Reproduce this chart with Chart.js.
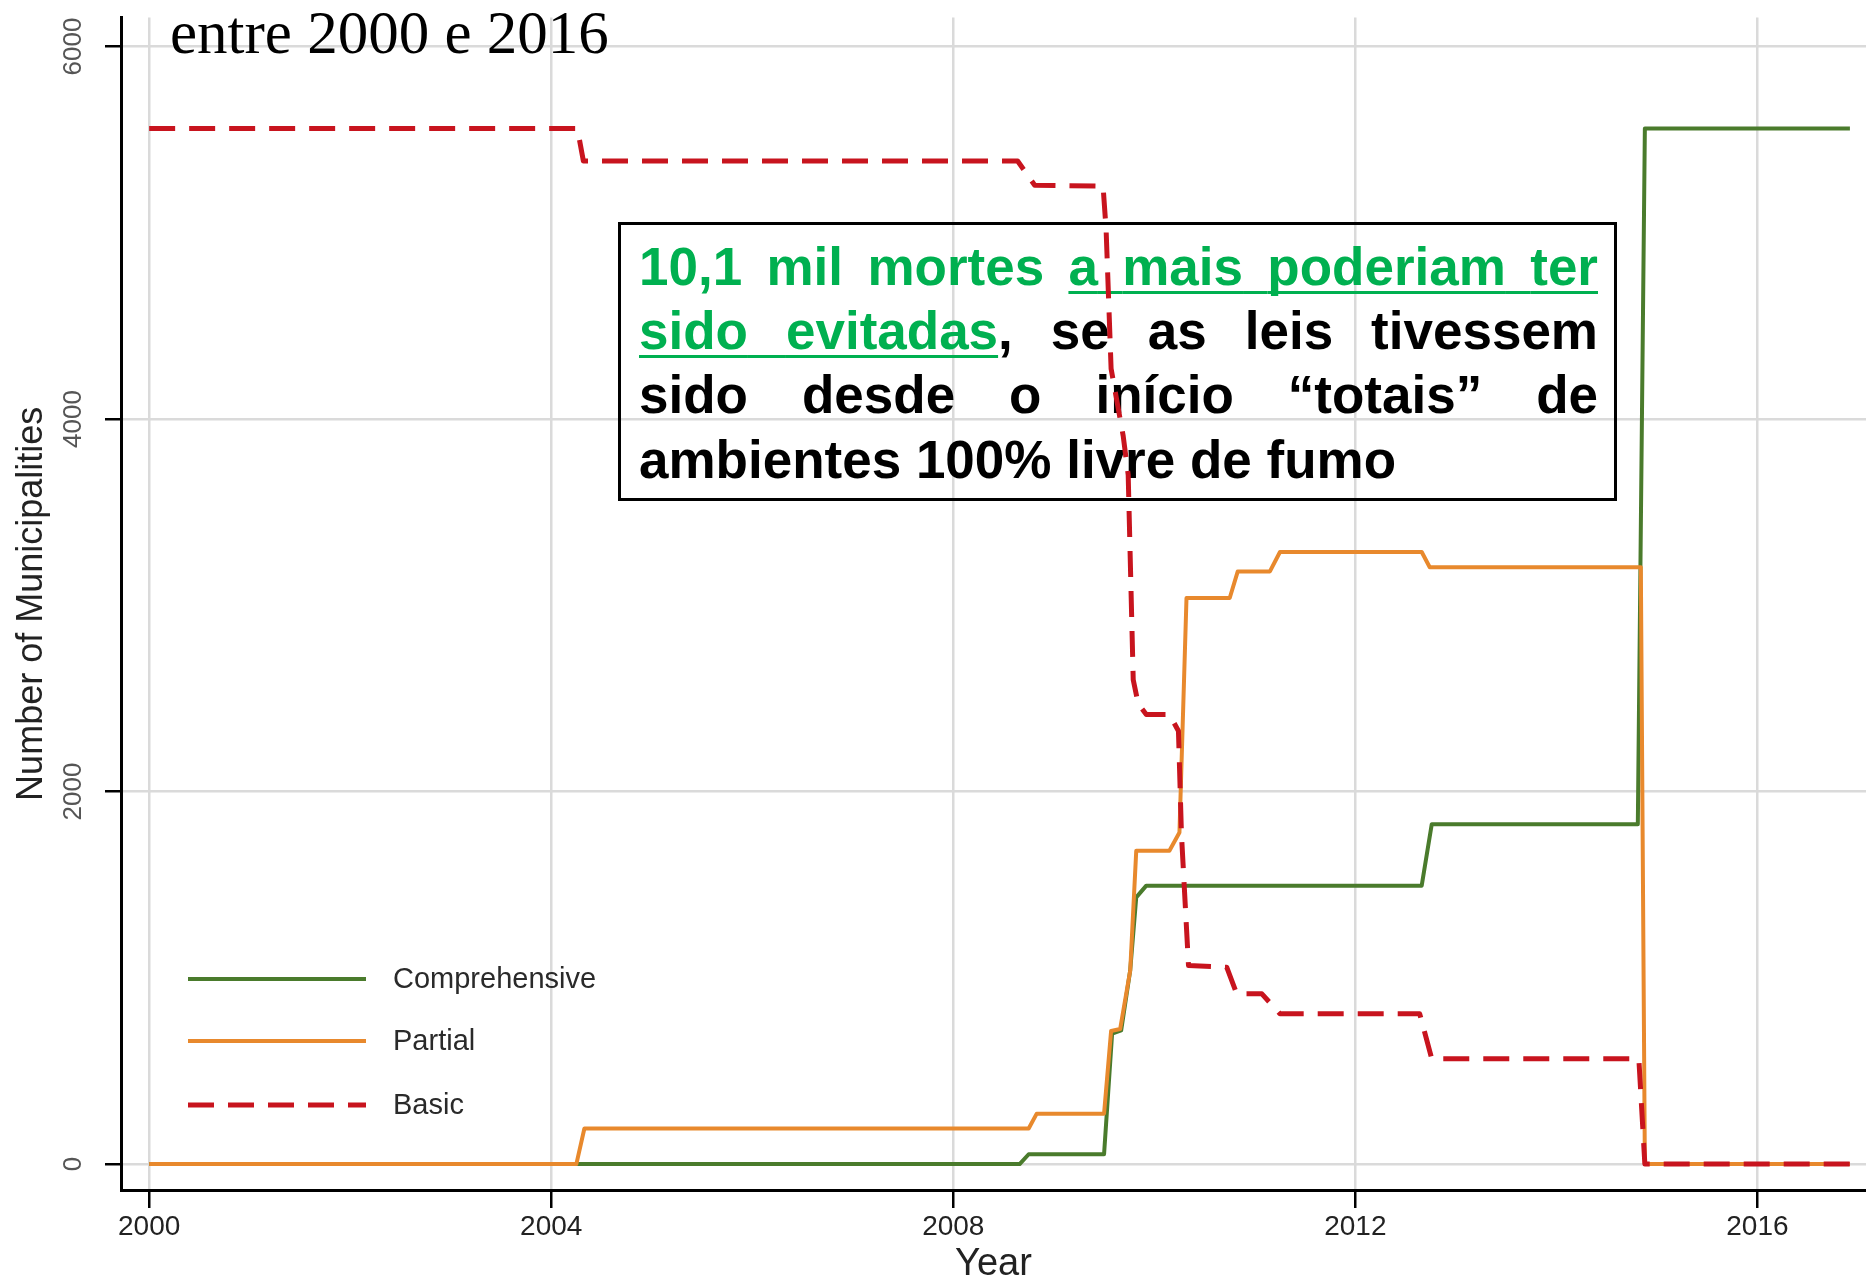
<!DOCTYPE html>
<html>
<head>
<meta charset="utf-8">
<script src="https://cdn.jsdelivr.net/npm/chart.js@4"></script>
<style>
  body { margin: 0; background: #fff; }
</style>
</head>
<body>
<canvas id="myLineChart" width="1866" height="1280"></canvas>
<script>
// データ
const series_names = ['Comprehensive', 'Partial', 'Basic'];
const tick_years = [2000, 2004, 2008, 2012, 2016];   // x軸の目盛り
const tick_counts = [0, 2000, 4000, 6000];           // y軸の目盛り

// Comprehensive（緑）
const years_comp = [2000, 2008.66, 2008.75, 2009.50, 2009.58, 2009.67, 2009.76, 2009.82, 2009.92, 2012.66, 2012.76, 2014.81, 2014.88, 2016.92];
const vals_comp  = [0, 0, 53, 53, 700, 718, 1040, 1432, 1495, 1495, 1825, 1825, 5560, 5560];

// Partial（オレンジ）
const years_partial = [2000, 2004.25, 2004.33, 2008.75, 2008.83, 2009.50, 2009.57, 2009.66, 2009.76, 2009.82, 2010.15, 2010.25, 2010.32, 2010.75, 2010.83, 2011.15, 2011.25, 2012.66, 2012.74, 2014.84, 2014.88, 2016.92];
const vals_partial  = [0, 0, 191, 191, 271, 271, 715, 725, 1039, 1682, 1682, 1780, 3039, 3039, 3182, 3182, 3286, 3286, 3204, 3204, 0, 0];

// Basic（赤の破線）
const years_basic = [2000, 2004.26, 2004.32, 2008.64, 2008.81, 2009.49, 2009.52, 2009.57, 2009.69, 2009.74, 2009.79, 2009.84, 2009.92, 2010.15, 2010.24, 2010.27, 2010.34, 2010.72, 2010.82, 2011.07, 2011.25, 2012.64, 2012.76, 2014.82, 2014.88, 2016.92];
const vals_basic  = [5560, 5560, 5385, 5385, 5255, 5250, 5020, 4270, 3910, 3700, 2600, 2470, 2414, 2414, 2325, 1770, 1066, 1057, 914, 914, 807, 807, 566, 566, 0, 0];

// 枠の中の文章（1行ずつ、u:true は下線）
const VERDE = '#00b050';
const nota_lines = [
    [{t: '10,1 mil mortes ', c: VERDE}, {t: 'a mais poderiam ter', c: VERDE, u: true}],
    [{t: 'sido evitadas', c: VERDE, u: true}, {t: ', se as leis tivessem', c: '#000'}],
    [{t: 'sido desde o início “totais” de', c: '#000'}],
    [{t: 'ambientes 100% livre de fumo', c: '#000'}]
];
const title_text = 'entre 2000 e 2016';

const AXIS_FONT = "'Liberation Sans', Arial, sans-serif";

window.onload = function(){
    draw_graph();
}

// x,y の配列を Chart.js の点データにする
function make_points(xs, ys) {
    return xs.map((x, i) => ({x: x, y: ys[i]}));
}

// 文字列を単語に分ける（カンマなどはくっつけたまま）
function split_words(line) {
    let words = [];
    let cur = null;
    for (const run of line) {
        const parts = run.t.split(' ');
        parts.forEach((p, i) => {
            if (i > 0) cur = null;
            if (p === '') return;
            if (!cur) { cur = []; words.push(cur); }
            cur.push({t: p, c: run.c, u: !!run.u});
        });
    }
    return words;
}

// 枠と文章を描く（グリッドの上、線の下）
const nota_plugin = {
    id: 'nota',
    beforeDatasetsDraw(chart) {
        const ctx = chart.ctx;
        ctx.save();
        ctx.strokeStyle = '#000';
        ctx.lineWidth = 3;
        ctx.strokeRect(619.5, 223.5, 996, 276);

        ctx.font = 'bold 53px "Liberation Sans", Arial, sans-serif';
        ctx.textBaseline = 'alphabetic';
        ctx.textAlign = 'left';
        const left = 639, width = 959;
        const baselines = [285, 349, 413, 478];
        nota_lines.forEach((line, li) => {
            const words = split_words(line);
            const widths = words.map(w => w.reduce((s, p) => s + ctx.measureText(p.t).width, 0));
            const total = widths.reduce((a, b) => a + b, 0);
            const last = li === nota_lines.length - 1;
            const gap = last ? ctx.measureText(' ').width : (width - total) / (words.length - 1);
            let x = left;
            const y = baselines[li];
            words.forEach((w, wi) => {
                w.forEach(p => {
                    const pw = ctx.measureText(p.t).width;
                    ctx.fillStyle = p.c;
                    ctx.fillText(p.t, x, y);
                    if (p.u) ctx.fillRect(x, y + 6, pw, 3);
                    x += pw;
                });
                // 単語の間の下線
                const next = words[wi + 1];
                if (next && w[w.length - 1].u && next[0].u) {
                    ctx.fillStyle = w[w.length - 1].c;
                    ctx.fillRect(x, y + 6, gap, 3);
                }
                x += gap;
            });
        });
        ctx.restore();
    },
    afterDraw(chart) {
        const ctx = chart.ctx;
        ctx.save();
        ctx.font = '61px "Liberation Serif", "Times New Roman", serif';
        ctx.fillStyle = '#000';
        ctx.textBaseline = 'alphabetic';
        ctx.fillText(title_text, 170, 53);
        ctx.restore();
    }
};

// 凡例（グラフの左下に手で描く）
const legend_plugin = {
    id: 'mylegend',
    afterDatasetsDraw(chart) {
        const ctx = chart.ctx;
        const rows = [979, 1041, 1105];
        ctx.save();
        chart.data.datasets.forEach((ds, i) => {
            ctx.strokeStyle = ds.borderColor;
            ctx.lineWidth = ds.borderWidth;
            ctx.setLineDash(ds.borderDash || []);
            ctx.beginPath();
            ctx.moveTo(188, rows[i]);
            ctx.lineTo(366, rows[i]);
            ctx.stroke();
            ctx.setLineDash([]);
            ctx.fillStyle = '#2a2a2a';
            ctx.font = '29px "Liberation Sans", Arial, sans-serif';
            ctx.textBaseline = 'middle';
            ctx.fillText(ds.label, 393, rows[i] + 1);
        });
        ctx.restore();
    }
};

// グラフを描く
function draw_graph() {
    var ctx = document.getElementById('myLineChart');
    var myLineChart = new Chart(ctx, {
        type: 'line',
        data: {
            datasets: [
                {
                    label: series_names[0],
                    data: make_points(years_comp, vals_comp),
                    borderColor: '#4a7b2c',
                    borderWidth: 4,
                    order: 3
                },
                {
                    label: series_names[1],
                    data: make_points(years_partial, vals_partial),
                    borderColor: '#e8892d',
                    borderWidth: 4,
                    order: 2
                },
                {
                    label: series_names[2],
                    data: make_points(years_basic, vals_basic),
                    borderColor: '#c8141e',
                    borderWidth: 5,
                    borderDash: [26, 14],
                    order: 1   // 赤を一番上に
                }
            ]
        },
        options: {
            responsive: false,
            animation: false,
            devicePixelRatio: 1,
            layout: { padding: { left: 0, top: 15, right: 0, bottom: 0 } },
            elements: {
                point: { radius: 0 },
                line: { tension: 0, fill: false, borderJoinStyle: 'round' }
            },
            plugins: {
                legend: { display: false },
                tooltip: { enabled: false }
            },
            scales: {
                x: {
                    type: 'linear',
                    min: 1999.72,
                    max: 2017.08,
                    afterBuildTicks: s => { s.ticks = tick_years.map(v => ({value: v})); },
                    afterFit: s => { s.height = 90; },
                    grid: { color: '#dadada', lineWidth: 2.5, tickLength: 18, tickColor: '#000', tickWidth: 2.5 },
                    border: { color: '#000', width: 3 },
                    ticks: {
                        padding: 2, color: '#222', maxRotation: 0, autoSkip: false,
                        font: { family: AXIS_FONT, size: 28 },
                        callback: v => String(v)
                    },
                    title: {
                        display: true, text: 'Year', color: '#222',
                        font: { family: AXIS_FONT, size: 38, lineHeight: 0.8 },
                        padding: { top: 0, bottom: 0 }
                    }
                },
                y: {
                    min: -139,
                    max: 6155,
                    afterBuildTicks: s => { s.ticks = tick_counts.map(v => ({value: v})); },
                    afterFit: s => { s.width = 121; },
                    grid: { color: '#dadada', lineWidth: 2.5, tickLength: 16, tickColor: '#000', tickWidth: 2.5 },
                    border: { color: '#000', width: 3 },
                    ticks: {
                        padding: 2, color: '#555', minRotation: 90, maxRotation: 90,
                        crossAlign: 'center', autoSkip: false,
                        font: { family: AXIS_FONT, size: 26 },
                        callback: v => String(v)
                    },
                    title: {
                        display: true, text: 'Number of Municipalities', color: '#222',
                        font: { family: AXIS_FONT, size: 36, lineHeight: 1 },
                        padding: { top: 14, bottom: 0 }
                    }
                }
            }
        },
        plugins: [nota_plugin, legend_plugin]
    });
}
</script>
</body>
</html>
